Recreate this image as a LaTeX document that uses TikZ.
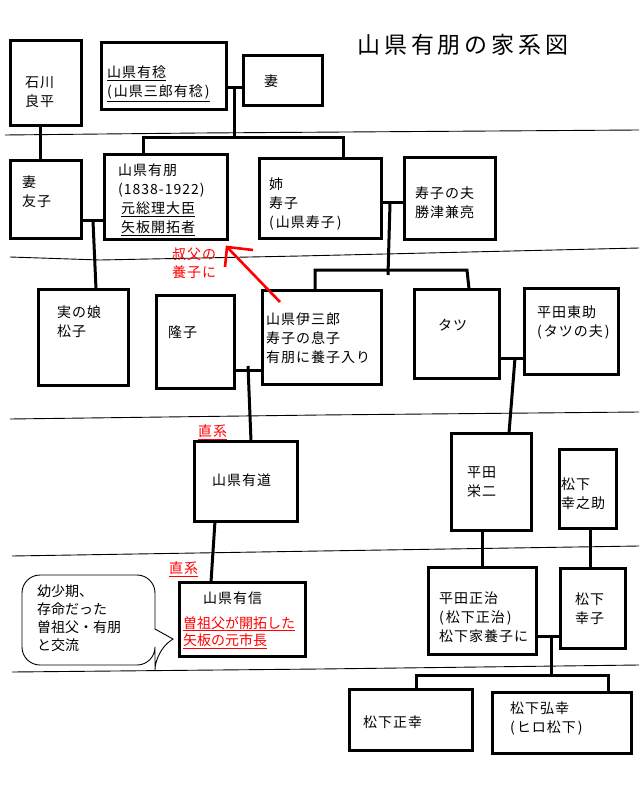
\documentclass[tikz,border=0pt]{standalone}
\usepackage{fontspec}
\newfontfamily\cjk{Noto Sans CJK JP}[LetterSpace=7]
\newfontfamily\cjknarrow{Noto Sans CJK JP}[LetterSpace=0]
\newfontfamily\cjktitle{Noto Sans CJK JP}[LetterSpace=17]
\newcommand\kpo{(\kern2pt}
\newcommand\kpc{\kern2pt)}
\newcommand\kbox[5]{\node[box, minimum width={#4pt-#2pt}, minimum height={#5pt-#3pt}] (#1) at (#2,#3) {};}
\begin{document}
\begin{tikzpicture}[x=1pt,y=-1pt,
  box/.style={draw, line width=3pt, inner sep=0pt, outer sep=0pt, anchor=north west},
  conn/.style={line width=3pt},
  rulel/.style={line width=0.9pt},
  txt/.style={inner sep=0pt, font=\fontsize{14}{19}\selectfont\cjk, align=left, anchor=north west},
  txtw/.style={txt, anchor=west},
  redtxt/.style={txt, text=red},
  redarrow/.style={draw=red, line width=2.6pt}]
\useasboundingbox (0,0) rectangle (639,794);
\fill[white] (0,0) rectangle (639,794);

% ruled lines
\draw[rulel] (5,135) -- (200,133) -- (639,130);
\draw[rulel] (10,257) -- (100,260) -- (300,256) -- (639,248);
\draw[rulel] (10,419) -- (320,415) -- (639,412);
\draw[rulel] (12,556) -- (320,551) -- (639,546);
\draw[rulel] (12,672) -- (320,669) -- (639,665);

% title
\node[inner sep=0pt, anchor=west, font=\fontsize{23}{27}\selectfont\cjktitle] (title) at (357,45) {山県有朋の家系図};

% boxes
\kbox{ishikawa}{10}{41}{81}{126}
\kbox{arimoto}{101}{43}{226}{110}
\kbox{tsuma1}{243}{56}{322}{106}
\kbox{tomoko}{10}{161}{81}{238}
\kbox{aritomo}{104}{155}{227}{239}
\kbox{kotoko}{259}{159}{381}{238}
\kbox{katsu}{404}{158}{495}{239}
\kbox{matsuko}{38}{289}{128}{385}
\kbox{takako}{156}{295}{234}{388}
\kbox{isaburo}{262}{290}{381}{384}
\kbox{tatsu}{414}{289}{499}{378}
\kbox{tosuke}{524}{288}{618}{374}
\kbox{arimichi}{194}{441}{297}{521}
\kbox{arinobu}{179}{582}{305}{656}
\kbox{eiji}{451}{433}{531}{530}
\kbox{konosuke}{559}{449}{616}{528}
\kbox{masaharu}{428}{567}{536}{654}
\kbox{sachiko}{560}{568}{625}{648}
\kbox{masayuki}{349}{689}{472}{750}
\kbox{hiroyuki}{492}{692}{631}{753}

% texts
\node[txt] (t-ishikawa) at (25,76) {石川\\良平};
\node[txt] (t-arimoto) at (107,66) {\underline{山県有稔}\\\underline{\kpo 山県三郎有稔\kpc}};
\node[txtw] (t-tsuma1) at (264,81) {妻};
\node[txt] (t-tomoko) at (22,176) {妻\\友子};
\node[txt] (t-aritomo) at (118,164) {山県有朋\\(1838-1922)\\\hspace*{3pt}\underline{元総理大臣}\\\hspace*{3pt}\underline{矢板開拓者}};
\node[txt] (t-kotoko) at (269,178) {姉\\寿子\\\kpo 山県寿子\kpc};
\node[txt] (t-katsu) at (415,187) {寿子の夫\\勝津兼亮};
\node[txt] (t-matsuko) at (57,306) {実の娘\\松子};
\node[txtw] (t-takako) at (168,332) {隆子};
\node[txt] (t-isaburo) at (266,313) {山県伊三郎\\寿子の息子\\有朋に養子入り};
\node[txtw] (t-tatsu) at (438,325) {タツ};
\node[txt] (t-tosuke) at (537,306) {平田東助\\\kpo タツの夫\kpc};
\node[txtw] (t-arimichi) at (212,480) {山県有道};
\node[txtw] (t-arinobu) at (203,598) {山県有信};
\node[redtxt, font=\fontsize{14}{17.5}\selectfont\cjknarrow] (t-arinobu2) at (183,616) {\underline{曽祖父が開拓した}\\\underline{矢板の元市長}};
\node[txt] (t-eiji) at (467,466) {平田\\栄二};
\node[txt] (t-konosuke) at (561,478) {松下\\幸之助};
\node[txt] (t-masaharu) at (439,592) {平田正治\\\kpo 松下正治\kpc\\松下家養子に};
\node[txt] (t-sachiko) at (575,593) {松下\\幸子};
\node[txtw] (t-masayuki) at (363,722) {松下正幸};
\node[txt] (t-hiroyuki) at (510,702) {松下弘幸\\\kpo ヒロ松下\kpc};
\node[redtxt, font=\fontsize{14}{18}\selectfont\cjk] (t-note) at (172,248) {叔父の\\養子に};
\node[redtxt, anchor=west] (t-choku1) at (198,432) {\underline{直系}};
\node[redtxt, anchor=west] (t-choku2) at (169,569) {\underline{直系}};

% speech bubble
\draw[line width=0.9pt] (155,629) [rounded corners=18pt] -- (155,575) -- (22,575) -- (22,665) -- (155,665) -- (155,652) [sharp corners] -- (173,639) -- cycle;
\node[txt, font=\fontsize{14}{17.7}\selectfont\cjknarrow] (t-bubble) at (37,585) {幼少期、\\存命だった\\曽祖父・有朋\\と交流};

% connectors
\draw[conn] (ishikawa.south -| 40,0) -- (tomoko.north -| 40,0);

\coordinate (j1) at (234,88);
\coordinate (a1) at (143,138);
\coordinate (a2) at (343,138);
\draw[conn] (arimoto.east |- j1) -- (tsuma1.west |- j1);
\draw[conn] (j1) -- (j1 |- a1);
\draw[conn] (aritomo.north -| a1) -- (a1) -- (a2) -- (kotoko.north -| a2);

\coordinate (j2) at (93,221);
\draw[conn] (tomoko.east |- j2) -- (aritomo.west |- j2);
\draw[conn] (j2) -- (matsuko.north -| 96,0);

\coordinate (j3) at (390,203);
\coordinate (j3b) at (388,275);
\coordinate (b1) at (315,270);
\coordinate (b2) at (467,270);
\draw[conn] (kotoko.east |- j3) -- (katsu.west |- j3);
\draw[conn] (j3) -- (j3b);
\draw[conn] (isaburo.north -| b1) -- (b1) -- (b2) -- (tatsu.north -| 469,0);

\coordinate (j4) at (248,370);
\draw[conn] (takako.east |- j4) -- (isaburo.west |- j4);
\draw[conn] (248,366) -- (arimichi.north -| 251,0);

\coordinate (j5) at (515,358);
\draw[conn] (tatsu.east |- j5) -- (tosuke.west |- j5);
\draw[conn] (j5) -- (eiji.north -| 509,0);

\draw[conn] (arimichi.south -| 215,0) -- (arinobu.north -| 211,0);
\draw[conn] (eiji.south -| 482,0) -- (masaharu.north -| 482,0);
\draw[conn] (konosuke.south -| 590,0) -- (sachiko.north -| 590,0);

\coordinate (j6) at (551,636);
\coordinate (c1) at (416,675);
\coordinate (c2) at (608,675);
\draw[conn] (masaharu.east |- j6) -- (sachiko.west |- j6);
\draw[conn] (j6) -- (j6 |- c1);
\draw[conn] (masayuki.north -| c1) -- (c1) -- (c2) -- (hiroyuki.north -| c2);

% red arrow
\coordinate (rs) at (280,302);
\coordinate (rt) at (227,247);
\draw[redarrow] (rs) -- (rt);
\draw[redarrow] (253,250) -- (rt) -- (225,267);
\end{tikzpicture}
\end{document}
